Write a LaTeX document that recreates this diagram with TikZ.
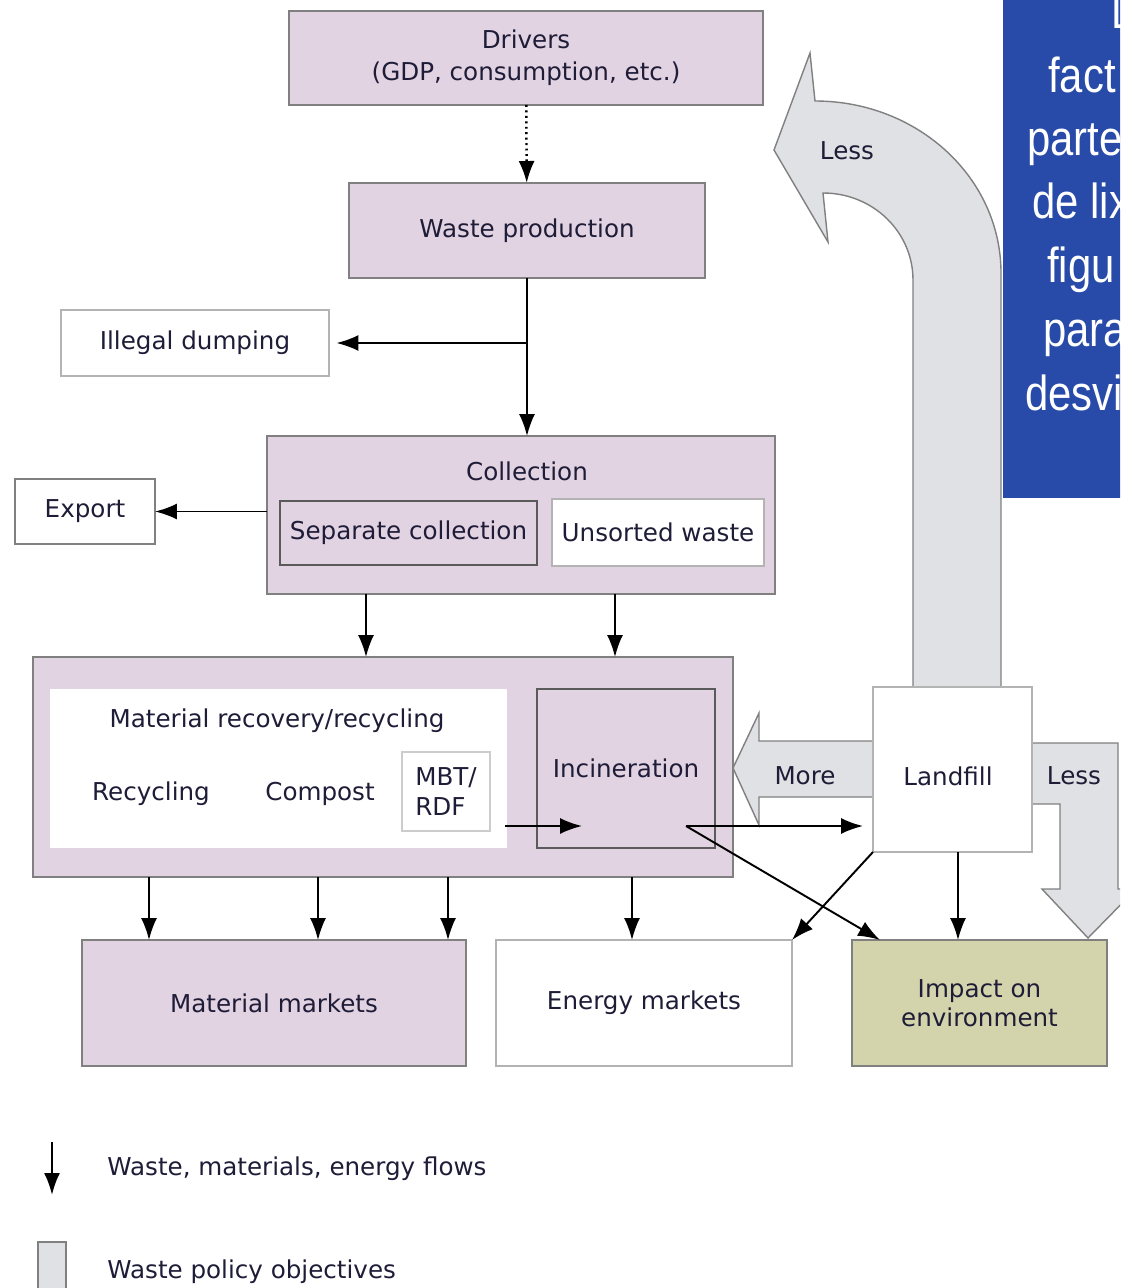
\documentclass[tikz,border=0pt]{standalone}
\usepackage{fontspec}
\setmainfont{DejaVu Sans}
\newfontfamily\bluefont[FakeStretch=0.85]{Liberation Sans}
\usetikzlibrary{arrows.meta,calc}
\definecolor{Mauve}{RGB}{226,211,226}
\definecolor{Olive}{RGB}{212,212,172}
\definecolor{Policy}{RGB}{224,225,228}
\definecolor{Navy}{RGB}{40,74,168}
\definecolor{Ink}{RGB}{30,28,55}
\definecolor{Edge}{RGB}{128,128,128}

\tikzset{
  box/.style={draw=Edge, line width=0.8pt, fill=Mauve, inner sep=0pt, outer sep=0pt, align=center, text=Ink},
  whitebox/.style={box, fill=white, draw=Edge!60},
  flow/.style={->, >={Latex[length=4.4mm,width=3.2mm]}, line width=1.1pt},
  policy/.style={draw=Edge, fill=Policy, line width=0.8pt},
  lbl/.style={text=Ink, inner sep=0pt},
  every node/.style={font=\fontsize{14}{17}\selectfont}
}

\begin{document}
\begin{tikzpicture}[x=0.02cm, y=-0.02cm]
  \useasboundingbox (0,0) rectangle (1120,1288);
  \clip (0,0) rectangle (1120,1288);

  % side panel, cut off at the edge
  \fill[Navy] (1003,-5) rectangle (1130,498);
  \begin{scope}
    \clip (1003,0) rectangle (1125,498);
    \foreach \word/\px/\py in {D/1111/29, fact/1048/92, parte/1027/155, de lix/1032/218,
                                figu/1047/282, para/1043/346, desvi/1025/410}
      \node[anchor=base west, inner sep=0pt, text=white, font=\bluefont\fontsize{28}{34}\selectfont] at (\px,\py) {\word};
  \end{scope}

  % policy arrows
  \draw[policy] (913,687) -- (913,280) .. controls (913,232) and (873,193) .. (823,193)
    -- (828,242) -- (774,150) -- (810,53) -- (815,101)
    .. controls (918,101) and (1001,178) .. (1001,273) -- (1001,687) -- cycle;
  \node[lbl] (lessup) at (847,151) {Less};
  \draw[policy] (873,741) -- (759,741) -- (759,713) -- (733,768) -- (759,825) -- (759,797) -- (873,797);
  \node[lbl] (more) at (805,776) {More};
  \draw[policy] (1032,743) -- (1118,743) -- (1118,889) -- (1136,889) -- (1088,938)
    -- (1042,889) -- (1060,889) -- (1060,804) -- (1032,804);
  \node[lbl] (lessdown) at (1074,776) {Less};

  % boxes
  \node[box, minimum width=9.48cm, minimum height=1.88cm, font=\fontsize{14}{18}\selectfont] (drivers) at (526,58)
    {Drivers\\(GDP, consumption, etc.)};
  \node[box, minimum width=7.12cm, minimum height=1.9cm] (wasteprod) at (527,230.5) {Waste production};
  \node[whitebox, minimum width=5.36cm, minimum height=1.32cm] (illegal) at (195,343) {Illegal dumping};
  \node[box, minimum width=10.16cm, minimum height=3.16cm] (collection) at (521,515) {};
  \node[lbl] (colltitle) at (527,471) {Collection};
  \node[box, draw=Edge!70!black, minimum width=5.14cm, minimum height=1.28cm] (sepcoll) at (408.5,533) {Separate collection};
  \node[whitebox, minimum width=4.24cm, minimum height=1.34cm] (unsorted) at (658,532.5) {Unsorted waste};
  \node[whitebox, draw=Edge, minimum width=2.8cm, minimum height=1.3cm] (export) at (85,511.5) {Export};

  \node[box, minimum width=14cm, minimum height=4.4cm] (recovery) at (383,767) {};
  \node[box, draw=none, fill=white, minimum width=9.14cm, minimum height=3.18cm] (matwhite) at (278.5,768.5) {};
  \node[lbl] (mattitle) at (277,721) {Material recovery/recycling};
  \node[lbl] (recycling) at (151,794) {Recycling};
  \node[lbl] (compost) at (320,794) {Compost};
  \node[whitebox, draw=Edge!40, align=left, minimum width=1.76cm, minimum height=1.58cm] (mbt) at (446,791.5) {MBT/\\RDF};
  \node[box, draw=Edge!70!black, minimum width=3.56cm, minimum height=3.18cm] (incin) at (626,768.5) {Incineration};
  \node[whitebox, minimum width=3.18cm, minimum height=3.3cm] (landfill) at (952.5,769.5) {};
  \node[lbl] (landfilltext) at (948,776) {Landfill};

  \node[box, minimum width=7.68cm, minimum height=2.52cm] (matmarkets) at (274,1003) {Material markets};
  \node[whitebox, minimum width=5.92cm, minimum height=2.52cm] (enmarkets) at (644,1003) {Energy markets};
  \node[box, fill=Olive, minimum width=5.1cm, minimum height=2.52cm, font=\fontsize{14}{16.5}\selectfont] (impact) at (979.5,1003)
    {Impact on\\environment};

  % flows
  \coordinate (mbtout) at (505,826);
  \coordinate (mbtin) at (582,826);
  \coordinate (incout) at (686,826);
  \draw[flow, dotted, line width=1.4pt] (drivers) -- (wasteprod);
  \draw[flow] (wasteprod) -- (wasteprod.south |- collection.north);
  \draw[flow, shorten >=1.5mm] (wasteprod.south |- illegal.east) -- (illegal.east);
  \draw[flow] (collection.west |- export.east) -- (export.east);
  \foreach \fx in {366,615}
    \draw[flow] (collection.south -| \fx,0) -- (recovery.north -| \fx,0);
  \foreach \fx in {149,318,448}
    \draw[flow] (recovery.south -| \fx,0) -- (matmarkets.north -| \fx,0);
  \draw[flow] (recovery.south -| 632,0) -- (enmarkets.north -| 632,0);
  \draw[flow] (mbtout) -- (mbtin);
  \draw[flow, shorten >=2mm] (incout) -- (incout -| landfill.west);
  \draw[flow] (incout) -- ($(impact.north west)+(28,0)$);
  \draw[flow] (landfill.south west) -- (enmarkets.north east);
  \draw[flow] (landfill.south -| 958,0) -- (impact.north -| 958,0);

  % legend
  \coordinate (legtop) at (52,1142);
  \coordinate (legbot) at (52,1195);
  \draw[flow, line width=1.3pt] (legtop) -- (legbot);
  \node[lbl, anchor=west] (legflow) at (107,1169) {Waste, materials, energy flows};
  \draw[policy] (38,1300) rectangle (66,1242);
  \node[lbl, anchor=west] (legpolicy) at (107,1272) {Waste policy objectives};
\end{tikzpicture}
\end{document}
